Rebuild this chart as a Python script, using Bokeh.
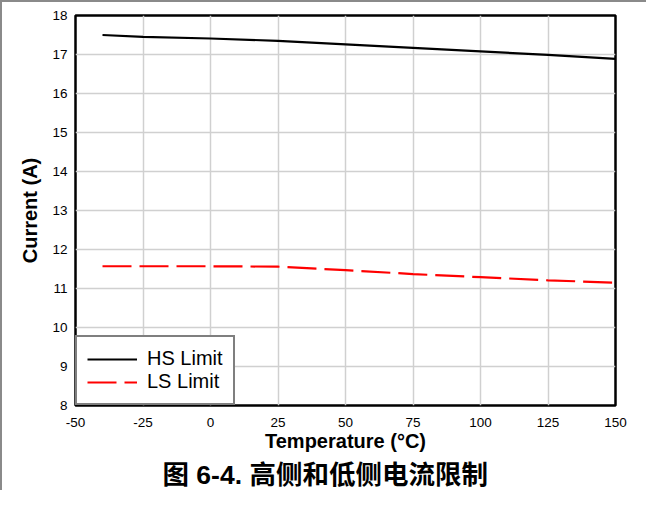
from bokeh.plotting import figure
from bokeh.models import Range1d, FixedTicker, Legend, LegendItem
from bokeh.embed import file_html
from bokeh.resources import INLINE

# ---- data ----
temperature = [-40, -25, 0, 25, 50, 75, 100, 125, 150]
hs_limit = [17.50, 17.45, 17.41, 17.35, 17.26, 17.17, 17.08, 16.99, 16.89]
ls_limit = [11.57, 11.57, 11.57, 11.56, 11.47, 11.37, 11.29, 11.21, 11.15]
x_ticks = [-50, -25, 0, 25, 50, 75, 100, 125, 150]
y_ticks = [8, 9, 10, 11, 12, 13, 14, 15, 16, 17, 18]
series_names = ["HS Limit", "LS Limit"]
x_label = "Temperature (°C)"
y_label = "Current (A)"
caption = "图 6-4. 高侧和低侧电流限制"

FONT = "Liberation Sans"

p = figure(width=646, height=490, output_backend="svg", toolbar_location=None,
           x_range=Range1d(-50, 150), y_range=Range1d(8, 18),
           title=caption, title_location="below",
           min_border_left=73, min_border_right=33, min_border_top=13,
           min_border_bottom=60)

p.background_fill_color = "white"
p.border_fill_color = "white"
p.outline_line_color = "black"
p.outline_line_width = 2.5

p.title.align = "left"
p.title.offset = 87
p.title.text_font = "Liberation Sans, Noto Sans CJK SC"
p.title.text_font_size = "26.5px"
p.title.text_font_style = "bold"
p.title.text_color = "black"
p.title.standoff = 6

for ax, ticks, lab, standoff in ((p.xaxis[0], x_ticks, x_label, 12), (p.yaxis[0], y_ticks, y_label, 8)):
    ax.ticker = FixedTicker(ticks=ticks)
    ax.major_label_overrides = {t: str(t) for t in ticks}
    ax.axis_line_color = None
    ax.major_tick_line_color = None
    ax.minor_tick_line_color = None
    ax.major_tick_out = 0
    ax.major_tick_in = 0
    ax.minor_tick_out = 0
    ax.major_label_standoff = standoff
    ax.major_label_text_font = FONT
    ax.major_label_text_font_size = "13.5px"
    ax.major_label_text_color = "black"
    ax.axis_label = lab
    ax.axis_label_text_font = FONT
    ax.axis_label_text_font_size = "20px"
    ax.axis_label_text_font_style = "bold"
    ax.axis_label_text_color = "black"

p.xaxis[0].axis_label_standoff = 0
p.yaxis[0].axis_label_standoff = 8

p.grid.grid_line_color = "#d0d0d0"
p.grid.grid_line_width = 1.5
p.xgrid.ticker = FixedTicker(ticks=x_ticks)
p.ygrid.ticker = FixedTicker(ticks=y_ticks)

r_hs = p.line(temperature, hs_limit, line_color="black", line_width=2.2)
r_ls = p.line(temperature, ls_limit, line_color="#ff0000", line_width=2.2, line_dash="29 8")

legend = Legend(items=[LegendItem(label=series_names[0], renderers=[r_hs]),
                       LegendItem(label=series_names[1], renderers=[r_ls])],
                location="bottom_left", margin=0, padding=10, spacing=0,
                glyph_width=50, glyph_height=22, label_height=22, label_standoff=10,
                label_text_font=FONT, label_text_font_size="20px", label_text_color="black",
                border_line_color="black", border_line_width=2.5,
                background_fill_color="white", background_fill_alpha=1.0)
p.add_layout(legend)

p.styles = {"border-top": "2px solid #8a8a8a", "border-left": "2px solid #8a8a8a"}

open("out.html", "w").write(file_html(p, INLINE))
